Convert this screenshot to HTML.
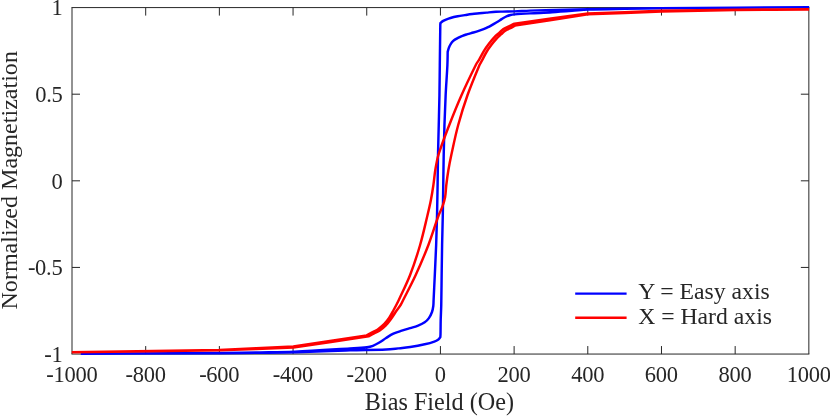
<!DOCTYPE html>
<html><head><meta charset="utf-8"><title>Hysteresis</title>
<style>
html,body{margin:0;padding:0;background:#fff;}
body{width:830px;height:416px;overflow:hidden;}
svg{display:block;}
text{font-family:"Liberation Serif",serif;fill:#262626;}
.t{font-size:22.5px;letter-spacing:-0.25px;}
.l{font-size:24.2px;}
.yl{font-size:24.05px;}
.g{font-size:23.7px;}
</style></head><body>
<svg width="830" height="416" viewBox="0 0 830 416">
<rect x="0" y="0" width="830" height="416" fill="#ffffff"/>

<g stroke="#262626" stroke-width="1" fill="none">
<line x1="71.50" y1="7.58" x2="809.35" y2="7.58"/>
<line x1="71.50" y1="354.05" x2="809.35" y2="354.05"/>
<line x1="72.00" y1="7.58" x2="72.00" y2="354.05"/>
<line x1="808.85" y1="7.58" x2="808.85" y2="354.05"/>
<line x1="145.69" y1="354.05" x2="145.69" y2="346.05"/>
<line x1="145.69" y1="7.58" x2="145.69" y2="15.58"/>
<line x1="219.37" y1="354.05" x2="219.37" y2="346.05"/>
<line x1="219.37" y1="7.58" x2="219.37" y2="15.58"/>
<line x1="293.06" y1="354.05" x2="293.06" y2="346.05"/>
<line x1="293.06" y1="7.58" x2="293.06" y2="15.58"/>
<line x1="366.74" y1="354.05" x2="366.74" y2="346.05"/>
<line x1="366.74" y1="7.58" x2="366.74" y2="15.58"/>
<line x1="440.43" y1="354.05" x2="440.43" y2="346.05"/>
<line x1="440.43" y1="7.58" x2="440.43" y2="15.58"/>
<line x1="514.11" y1="354.05" x2="514.11" y2="346.05"/>
<line x1="514.11" y1="7.58" x2="514.11" y2="15.58"/>
<line x1="587.79" y1="354.05" x2="587.79" y2="346.05"/>
<line x1="587.79" y1="7.58" x2="587.79" y2="15.58"/>
<line x1="661.48" y1="354.05" x2="661.48" y2="346.05"/>
<line x1="661.48" y1="7.58" x2="661.48" y2="15.58"/>
<line x1="735.17" y1="354.05" x2="735.17" y2="346.05"/>
<line x1="735.17" y1="7.58" x2="735.17" y2="15.58"/>
<line x1="72.00" y1="94.20" x2="80.00" y2="94.20"/>
<line x1="808.85" y1="94.20" x2="800.85" y2="94.20"/>
<line x1="72.00" y1="180.82" x2="80.00" y2="180.82"/>
<line x1="808.85" y1="180.82" x2="800.85" y2="180.82"/>
<line x1="72.00" y1="267.43" x2="80.00" y2="267.43"/>
<line x1="808.85" y1="267.43" x2="800.85" y2="267.43"/>
</g>
<clipPath id="c"><rect x="71.50" y="0" width="737.65" height="416"/></clipPath>
<g clip-path="url(#c)" fill="none" stroke-width="2.45" stroke-linejoin="round" stroke-linecap="butt">
<path stroke="#0000ff" d="M80.80,353.80 C127.20,353.60 173.60,353.47 220.00,353.20 C233.33,353.12 246.67,352.93 260.00,352.75 C271.53,352.60 283.07,352.51 294.60,352.20 C313.07,351.70 331.53,350.84 350.00,350.30 C362.03,349.94 374.08,349.97 386.10,349.50 C390.15,349.34 394.17,348.82 398.20,348.40 C402.21,347.98 406.22,347.62 410.20,347.00 C415.06,346.25 419.91,345.37 424.70,344.30 C427.94,343.57 431.19,342.71 434.30,341.60 C435.75,341.08 437.17,340.30 438.40,339.40 C439.17,338.84 439.67,337.93 440.30,337.20 C440.37,336.30 440.48,335.40 440.50,334.50 C440.61,329.67 440.58,324.83 440.70,320.00 C440.83,315.00 441.14,310.00 441.25,305.00 C441.46,295.00 441.51,285.00 441.65,275.00 C441.79,265.00 441.91,255.00 442.10,245.00 C442.29,235.00 442.61,225.00 442.80,215.00 C442.99,205.00 443.10,195.00 443.25,185.00 C443.40,175.00 443.50,165.00 443.70,155.00 C443.90,145.00 444.13,135.00 444.45,125.00 C444.78,115.00 445.16,105.00 445.65,95.00 C446.14,85.00 446.93,75.00 447.40,65.00 C447.61,60.57 447.60,56.13 447.70,51.70 C448.13,50.30 448.44,48.85 449.00,47.50 C449.54,46.18 450.24,44.90 451.00,43.70 C451.57,42.80 452.25,41.95 453.00,41.20 C453.68,40.52 454.49,39.93 455.30,39.40 C456.32,38.73 457.41,38.15 458.50,37.60 C459.81,36.95 461.13,36.32 462.50,35.80 C464.13,35.18 465.83,34.71 467.50,34.20 C469.46,33.61 471.44,33.09 473.40,32.50 C475.41,31.89 477.41,31.26 479.40,30.60 C481.01,30.06 482.62,29.52 484.20,28.90 C485.49,28.39 486.75,27.81 488.00,27.20 C489.02,26.71 490.01,26.16 491.00,25.60 C492.78,24.59 494.55,23.55 496.30,22.50 C497.55,21.75 498.78,20.98 500.00,20.20 C501.01,19.55 501.96,18.81 503.00,18.20 C504.30,17.44 505.62,16.69 507.00,16.10 C508.12,15.62 509.31,15.27 510.50,15.00 C511.81,14.70 513.16,14.51 514.50,14.40 C519.66,13.98 524.83,13.69 530.00,13.40 C537.33,12.99 544.67,12.74 552.00,12.30 C558.67,11.90 565.34,11.40 572.00,10.90 C577.34,10.50 582.66,9.81 588.00,9.60 C600.32,9.11 612.67,9.02 625.00,8.80 C636.67,8.59 648.33,8.41 660.00,8.30 C709.77,7.84 759.53,7.50 809.30,7.10 C759.53,7.47 709.77,7.75 660.00,8.20 C636.00,8.42 612.00,8.66 588.00,9.10 C568.66,9.46 549.33,10.00 530.00,10.60 C524.83,10.76 519.67,11.21 514.50,11.40 C510.44,11.55 506.37,11.51 502.30,11.60 C500.20,11.65 498.10,11.67 496.00,11.80 C492.86,12.00 489.73,12.32 486.60,12.60 C484.20,12.82 481.80,13.07 479.40,13.30 C477.00,13.53 474.59,13.70 472.20,14.00 C469.76,14.30 467.33,14.71 464.90,15.10 C462.50,15.48 460.08,15.82 457.70,16.30 C455.28,16.79 452.87,17.33 450.50,18.00 C448.97,18.43 447.48,19.01 446.00,19.60 C445.04,19.98 444.08,20.37 443.20,20.90 C442.24,21.47 441.40,22.23 440.50,22.90 C440.43,23.53 440.31,24.16 440.30,24.80 C440.08,38.20 439.96,51.60 439.80,65.00 C439.68,75.00 439.62,85.00 439.45,95.00 C439.27,105.00 438.99,115.00 438.75,125.00 C438.51,135.00 438.19,145.00 438.00,155.00 C437.81,165.00 437.76,175.00 437.60,185.00 C437.44,195.00 437.29,205.00 437.05,215.00 C436.81,225.00 436.52,235.00 436.15,245.00 C435.77,255.00 435.26,265.00 434.80,275.00 C434.41,283.33 434.00,291.67 433.60,300.00 C433.50,302.00 433.56,304.02 433.30,306.00 C433.03,308.02 432.69,310.09 432.00,312.00 C431.23,314.13 430.20,316.26 428.90,318.10 C427.77,319.70 426.31,321.20 424.70,322.30 C422.51,323.80 419.98,324.91 417.50,325.90 C415.15,326.84 412.63,327.36 410.20,328.10 C407.40,328.96 404.58,329.77 401.80,330.70 C398.98,331.64 396.08,332.45 393.40,333.70 C390.85,334.89 388.49,336.50 386.10,338.00 C383.66,339.53 381.38,341.34 378.90,342.80 C376.98,343.94 374.99,345.04 372.90,345.80 C370.99,346.50 368.94,346.97 366.90,347.20 C361.30,347.84 355.64,348.06 350.00,348.40 C331.54,349.52 313.08,350.79 294.60,351.60 C283.08,352.11 271.53,352.15 260.00,352.35 C246.67,352.58 233.33,352.79 220.00,352.90 C173.60,353.28 127.20,353.50 80.80,353.80"/>
<path stroke="#ff0000" d="M71.50,352.10 C120.80,351.35 170.10,350.60 219.40,349.85 C244.03,348.70 268.67,347.55 293.30,346.40 C317.73,342.73 342.17,339.07 366.60,335.40 C368.97,334.15 371.36,332.94 373.70,331.65 C375.29,330.77 376.94,329.97 378.40,328.90 C380.47,327.38 382.53,325.75 384.30,323.90 C386.19,321.92 387.87,319.68 389.40,317.40 C390.97,315.05 392.22,312.48 393.60,310.00 C394.52,308.34 395.43,306.68 396.30,305.00 C397.16,303.35 398.02,301.69 398.80,300.00 C402.62,291.69 406.80,283.52 410.10,275.00 C413.90,265.18 417.16,255.11 420.10,245.00 C422.98,235.11 425.15,225.02 427.55,215.00 C428.75,210.02 429.92,205.03 430.90,200.00 C431.87,195.03 432.66,190.01 433.40,185.00 C434.13,180.01 434.47,174.97 435.30,170.00 C436.14,164.97 436.89,159.86 438.40,155.00 C441.55,144.86 445.46,134.92 449.30,125.00 C453.20,114.92 457.23,104.88 461.60,95.00 C466.07,84.88 470.89,74.90 475.80,65.00 C476.79,63.00 478.19,61.23 479.30,59.30 C480.95,56.43 482.37,53.42 484.10,50.60 C485.57,48.22 487.20,45.92 488.90,43.70 C490.65,41.42 492.47,39.18 494.45,37.10 C496.06,35.41 497.92,33.97 499.65,32.40 C500.90,31.27 502.04,29.97 503.40,29.00 C504.39,28.30 505.60,27.94 506.70,27.40 C508.13,26.70 509.57,26.00 511.00,25.30 C512.17,24.73 513.33,24.17 514.50,23.60 C538.97,20.23 563.43,16.87 587.90,13.50 C612.47,12.58 637.03,11.67 661.60,10.75 C686.17,10.40 710.73,10.05 735.30,9.70 C759.97,9.57 784.63,9.43 809.30,9.30 C809.30,9.37 809.30,9.43 809.30,9.50 C784.63,9.70 759.97,9.90 735.30,10.10 C710.73,10.62 686.17,11.13 661.60,11.65 C637.03,12.57 612.47,13.48 587.90,14.40 C563.57,18.13 539.23,21.87 514.90,25.60 C513.93,26.17 512.99,26.78 512.00,27.30 C510.59,28.04 509.12,28.67 507.70,29.40 C506.72,29.90 505.67,30.34 504.80,31.00 C503.56,31.94 502.50,33.13 501.35,34.20 C499.68,35.76 497.90,37.22 496.35,38.90 C494.48,40.92 492.76,43.10 491.10,45.30 C489.47,47.46 487.89,49.68 486.50,52.00 C484.82,54.81 483.46,57.81 481.90,60.70 C481.12,62.15 480.13,63.49 479.50,65.00 C475.35,74.92 471.15,84.86 467.55,95.00 C464.05,104.86 460.94,114.90 458.20,125.00 C455.52,134.90 453.48,144.98 451.30,155.00 C450.22,159.98 449.24,164.98 448.40,170.00 C447.57,174.98 446.91,179.99 446.30,185.00 C445.81,189.09 445.83,193.26 445.10,197.30 C444.53,200.50 443.50,203.64 442.40,206.70 C441.38,209.54 439.79,212.16 438.75,215.00 C435.12,224.93 432.19,235.13 428.40,245.00 C424.51,255.13 420.22,265.13 415.70,275.00 C411.82,283.47 407.39,291.68 403.20,300.00 C402.36,301.68 401.59,303.41 400.60,305.00 C399.52,306.74 398.16,308.31 397.00,310.00 C394.96,312.97 393.12,316.09 391.00,319.00 C389.32,321.32 387.60,323.67 385.60,325.70 C383.73,327.60 381.61,329.32 379.40,330.80 C377.78,331.89 375.85,332.49 374.10,333.40 C372.25,334.36 370.43,335.40 368.60,336.40 C343.50,340.10 318.40,343.80 293.30,347.50 C268.67,348.43 244.03,349.37 219.40,350.30 C170.10,350.97 120.80,351.63 71.50,352.30"/>
</g>
<g style="will-change:transform">
<text class="t" x="71.88" y="381.7" text-anchor="middle">-1000</text>
<text class="t" x="145.56" y="381.7" text-anchor="middle">-800</text>
<text class="t" x="219.25" y="381.7" text-anchor="middle">-600</text>
<text class="t" x="292.94" y="381.7" text-anchor="middle">-400</text>
<text class="t" x="366.62" y="381.7" text-anchor="middle">-200</text>
<text class="t" x="440.31" y="381.7" text-anchor="middle">0</text>
<text class="t" x="513.99" y="381.7" text-anchor="middle">200</text>
<text class="t" x="587.67" y="381.7" text-anchor="middle">400</text>
<text class="t" x="661.36" y="381.7" text-anchor="middle">600</text>
<text class="t" x="735.05" y="381.7" text-anchor="middle">800</text>
<text class="t" x="808.73" y="381.7" text-anchor="middle">1000</text>
<text class="t" x="62.5" y="15.43" text-anchor="end">1</text>
<text class="t" x="62.5" y="102.05" text-anchor="end">0.5</text>
<text class="t" x="62.5" y="188.67" text-anchor="end">0</text>
<text class="t" x="62.5" y="275.28" text-anchor="end">-0.5</text>
<text class="t" x="62.5" y="361.90" text-anchor="end">-1</text>
<text class="l" x="439.4" y="409.6" text-anchor="middle">Bias Field (Oe)</text>
<text class="yl" transform="translate(17.3,180.3) rotate(-90)" text-anchor="middle">Normalized Magnetization</text>
<g fill="none" stroke-width="2.45"><line x1="575.2" y1="293.6" x2="626.6" y2="293.6" stroke="#0000ff"/><line x1="575.2" y1="317.8" x2="626.6" y2="317.8" stroke="#ff0000"/></g>
<text class="g" x="638.2" y="299.2">Y = Easy axis</text>
<text class="g" x="638.2" y="323.5">X = Hard axis</text>
</g>
</svg></body></html>
